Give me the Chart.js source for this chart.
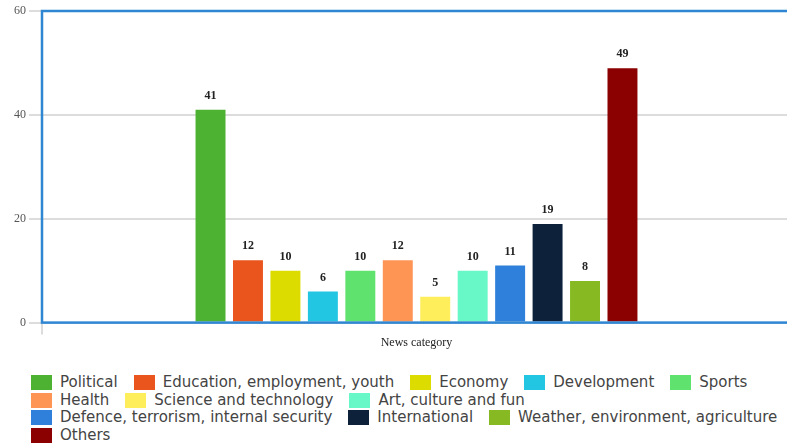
<!DOCTYPE html>
<html>
<head>
<meta charset="utf-8">
<script src="https://cdn.jsdelivr.net/npm/chart.js@4/dist/chart.umd.min.js"></script>
<style>
  html, body { margin: 0; padding: 0; background: #fff; overflow: hidden; }
  #wrap { position: relative; width: 800px; height: 446px; }
  #chart-box { position: absolute; left: 0; top: 0; width: 800px; height: 360px; }
  #legend {
    position: absolute; left: 31px; top: 374px; width: 765px;
    display: flex; flex-wrap: wrap; column-gap: 16px;
    font-family: "DejaVu Sans", sans-serif; font-size: 15px; color: #444;
    line-height: 17.5px;
  }
  .legend-item { display: flex; align-items: center; white-space: nowrap; }
  .legend-box { width: 19px; height: 13px; margin-right: 8px; border: 1px solid; }
</style>
</head>
<body>
<div id="wrap">
  <div id="chart-box"><canvas id="chart"></canvas></div>
  <div id="legend"></div>
</div>
<script>
const categories = ["News category"];

const seriesNames = [
  "Political",
  "Education, employment, youth",
  "Economy",
  "Development",
  "Sports",
  "Health",
  "Science and technology",
  "Art, culture and fun",
  "Defence, terrorism, internal security",
  "International",
  "Weather, environment, agriculture",
  "Others",
];

const seriesValues = [41, 12, 10, 6, 10, 12, 5, 10, 11, 19, 8, 49];

const seriesColors = [
  "#4db232",
  "#e9551d",
  "#dcdc00",
  "#22c6e3",
  "#60e26e",
  "#ff9555",
  "#ffee5c",
  "#68f7c6",
  "#2f80da",
  "#0e213a",
  "#87ba22",
  "#8b0000",
];

const yTicks = [0, 20, 40, 60];

// value printed above each bar
const barValueLabels = {
  id: "barValueLabels",
  afterDatasetsDraw(chart) {
    const ctx = chart.ctx;
    ctx.save();
    ctx.font = "bold 12px 'Liberation Serif', serif";
    ctx.fillStyle = "#222";
    ctx.textAlign = "center";
    ctx.textBaseline = "bottom";
    chart.data.datasets.forEach((ds, i) => {
      chart.getDatasetMeta(i).data.forEach((bar, j) => {
        ctx.fillText(String(ds.data[j]), bar.x, bar.y - 8);
      });
    });
    ctx.restore();
  },
};

// blue frame round the plot area
const plotFrame = {
  id: "plotFrame",
  afterDatasetsDraw(chart) {
    const { ctx, chartArea } = chart;
    ctx.save();
    ctx.strokeStyle = "#2f86d3";
    ctx.lineWidth = 2.5;
    ctx.strokeRect(chartArea.left, chartArea.top,
      chartArea.right - chartArea.left, chartArea.bottom - chartArea.top);
    ctx.restore();
  },
};

const chartCanvas = document.getElementById("chart");

const chart = new Chart(chartCanvas.getContext("2d"), {
  type: "bar",
  data: {
    labels: categories,
    datasets: seriesNames.map((name, i) => ({
      label: name,
      data: [seriesValues[i]],
      backgroundColor: seriesColors[i],
      borderWidth: 0,
    })),
  },
  options: {
    responsive: true,
    maintainAspectRatio: false,
    animation: false,
    datasets: {
      bar: { categoryPercentage: 0.6, barPercentage: 0.8 },
    },
    layout: { padding: { left: 11, top: 11, right: 9, bottom: 9 } },
    plugins: {
      legend: { display: false },
      tooltip: { enabled: false },
    },
    scales: {
      x: {
        grid: { drawOnChartArea: false, tickLength: 12, color: "#dcdcdc", lineWidth: 2 },
        border: { display: false },
        ticks: {
          color: "#222",
          padding: 1,
          font: { family: "'Liberation Serif', serif", size: 12 },
        },
      },
      y: {
        min: 0,
        max: 60,
        afterBuildTicks: (axis) => {
          axis.ticks = yTicks.map((v) => ({ value: v }));
        },
        grid: { tickLength: 13, color: "#dcdcdc", lineWidth: 2 },
        border: { display: false },
        ticks: {
          color: "#555",
          padding: 3,
          font: { family: "'Liberation Serif', serif", size: 12 },
        },
      },
    },
  },
  plugins: [barValueLabels, plotFrame],
});

// legend built from the chart's own legend items
const legendEl = document.getElementById("legend");
Chart.defaults.plugins.legend.labels.generateLabels(chart).forEach((item) => {
  const row = document.createElement("div");
  row.classList.add("legend-item");
  const box = document.createElement("span");
  box.classList.add("legend-box");
  box.style.background = item.fillStyle;
  box.style.borderColor = item.fillStyle;
  row.appendChild(box);
  const text = document.createElement("span");
  text.textContent = item.text;
  row.appendChild(text);
  legendEl.appendChild(row);
});
</script>
</body>
</html>
